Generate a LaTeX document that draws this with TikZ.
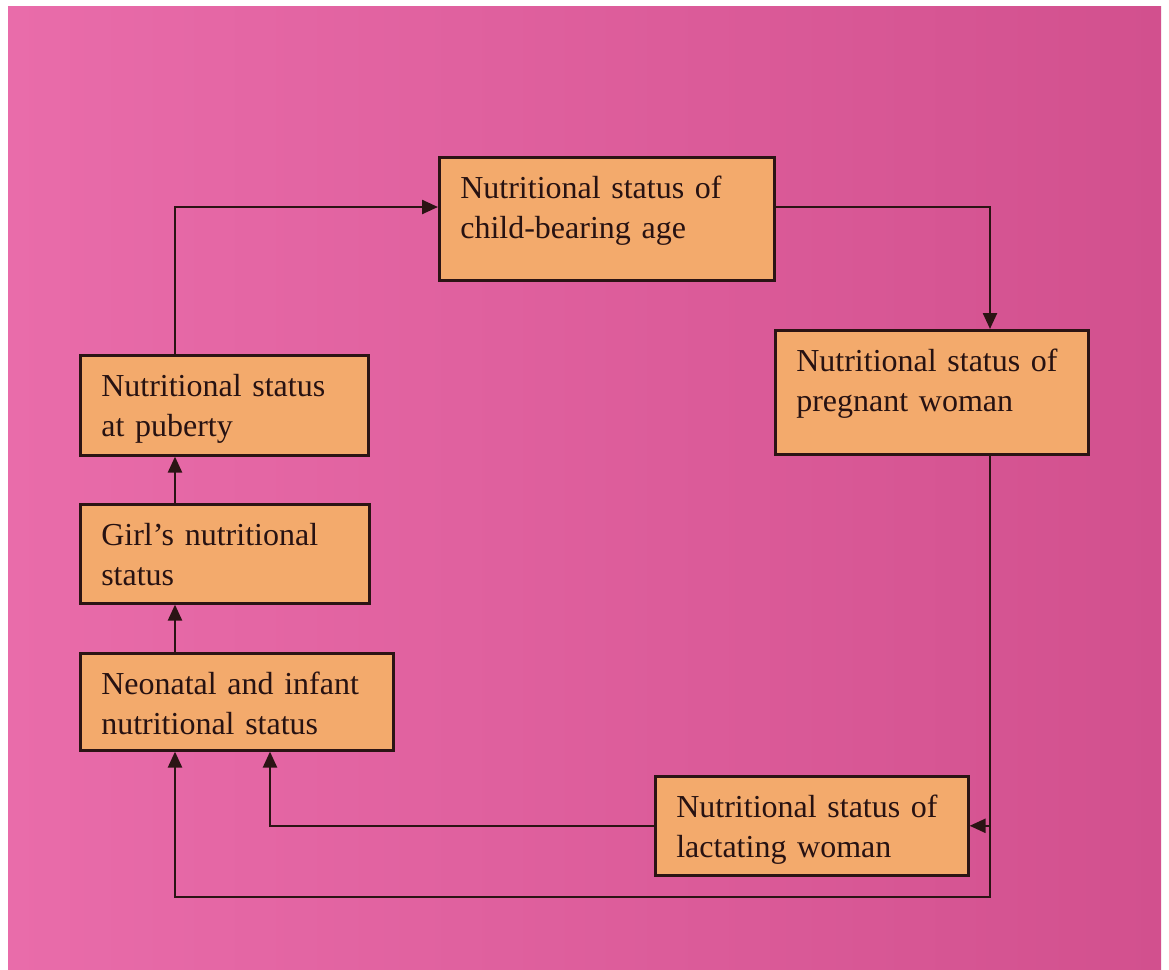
\documentclass[tikz,border=0pt]{standalone}
\usepackage{fontspec}
\setmainfont{Liberation Serif}
\usetikzlibrary{arrows.meta}
\definecolor{bgleft}{HTML}{E96CAA}
\definecolor{bgmid}{HTML}{DE5CA6}
\definecolor{bgright}{HTML}{D2508E}
\definecolor{boxfill}{HTML}{F3AA6C}
\definecolor{edge}{HTML}{2B1414}

\begin{document}
\begin{tikzpicture}[x=0.5pt,y=-0.5pt,
  stage/.style={draw=edge,line width=1.3pt,fill=boxfill,anchor=north west,
    inner xsep=10.5pt,inner ysep=0pt,align=left,text height=20.5pt,
    text=edge!90!black,font=\fontsize{16}{20}\selectfont},
  link/.style={draw=edge,line width=1.2pt,-{Triangle[length=8pt,width=7pt]}}]
  \useasboundingbox (0,0) rectangle (1169,970);
  \fill[white] (0,0) rectangle (1169,970);
  \shade[left color=bgleft,middle color=bgmid,right color=bgright] (8,6) rectangle (1161,970);
  % the six stages
  \node[stage,text width=146.5pt,text depth=41pt] (childbearing) at (438,156)
    {Nutritional status of\\child-bearing age};
  \node[stage,text width=135.5pt,text depth=41.5pt] (pregnant) at (774,329)
    {Nutritional status of\\pregnant woman};
  \node[stage,text width=123pt,text depth=29.5pt] (puberty) at (79,354)
    {Nutritional status\\at puberty};
  \node[stage,text width=123.5pt,text depth=29pt] (girl) at (79,503)
    {Girl’s nutritional\\status};
  \node[stage,text width=135.5pt,text depth=28pt] (neonatal) at (79,652)
    {Neonatal and infant\\nutritional status};
  \node[stage,text width=135.5pt,text depth=29pt] (lactating) at (654,775)
    {Nutritional status of\\lactating woman};
  \coordinate (bottomrun) at (990,897);
  % cycle
  \draw[link] ([xshift=48pt]puberty.north west) |- ([yshift=-25.5pt]childbearing.north west);
  \draw[link] ([yshift=-25.5pt]childbearing.north east) -| ([xshift=108pt]pregnant.north west);
  \draw[link] ([xshift=108pt]pregnant.south west) -- (bottomrun) -| ([xshift=48pt]neonatal.south west);
  \draw[link] (bottomrun |- lactating.east) -- (lactating.east);
  \draw[link] (lactating.west) -| ([xshift=95.5pt]neonatal.south west);
  \draw[link] ([xshift=48pt]neonatal.north west) -- ([xshift=48pt]girl.south west);
  \draw[link] ([xshift=48pt]girl.north west) -- ([xshift=48pt]puberty.south west);
\end{tikzpicture}
\end{document}
